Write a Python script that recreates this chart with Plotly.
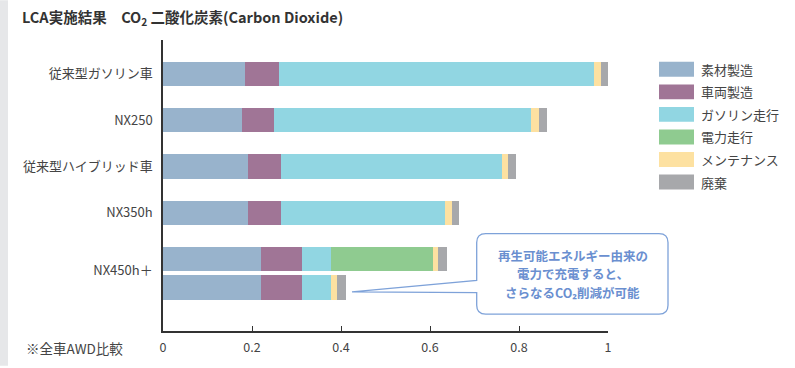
import plotly.graph_objects as go

# ---------------- data ----------------
categories = ["従来型ガソリン車", "NX250", "従来型ハイブリッド車", "NX350h", "NX450h＋"]
# bar rows (NX450h+ has two bars: upper = with grid power, lower = renewable charging)
row_pos = [0, 1, 2, 3, 3.99, 4.61]
label_pos = [0, 1, 2, 3, 4.25]

series_names = ["素材製造", "車両製造", "ガソリン走行", "電力走行", "メンテナンス", "廃棄"]
series_colors = ["#98b3cc", "#a07596", "#91d6e2", "#8fcb90", "#fde1a1", "#a7a8ab"]

material = [0.184, 0.177, 0.191, 0.191, 0.220, 0.220]
vehicle = [0.076, 0.073, 0.074, 0.074, 0.092, 0.092]
gasoline = [0.708, 0.578, 0.496, 0.369, 0.065, 0.065]
electric = [0.000, 0.000, 0.000, 0.000, 0.229, 0.000]
maintenance = [0.016, 0.018, 0.0135, 0.015, 0.012, 0.0135]
disposal = [0.016, 0.016, 0.0187, 0.0165, 0.020, 0.020]
series_values = [material, vehicle, gasoline, electric, maintenance, disposal]

x_ticks = [0, 0.2, 0.4, 0.6, 0.8, 1]
x_ticktext = ["0", "0.2", "0.4", "0.6", "0.8", "1"]

title_text = "LCA実施結果　CO<sub>2</sub> 二酸化炭素(Carbon Dioxide)"
note_text = "※全車AWD比較"
callout_lines = ["再生可能エネルギー由来の", "電力で充電すると、", "さらなるCO₂削減が可能"]

# ---------------- layout geometry (pixels) ----------------
W, H = 795, 368
L, R, T, B = 163, 608, 40, 333
PW, PH = R - L, B - T


def px(x):
    return (x - L) / PW


def py(y):
    return (B - y) / PH


FONT = "Noto Sans CJK JP, Noto Sans, sans-serif"

fig = go.Figure()
for name, color, vals in zip(series_names, series_colors, series_values):
    fig.add_trace(go.Bar(
        y=row_pos, x=vals, orientation="h", name=name,
        marker=dict(color=color, line=dict(width=0)),
        width=0.525, showlegend=False, hoverinfo="skip",
    ))

shapes = []
annotations = []

# left grey stripe
shapes.append(dict(type="rect", xref="paper", yref="paper",
                   x0=px(0), x1=px(8), y0=py(H), y1=py(0),
                   fillcolor="#e6e7e9", line=dict(width=0), layer="below"))

# manual legend
for i, (name, color) in enumerate(zip(series_names, series_colors)):
    cy = 69.5 + i * 22.7
    shapes.append(dict(type="rect", xref="paper", yref="paper",
                       x0=px(659), x1=px(694), y0=py(cy + 7.5), y1=py(cy - 7.5),
                       fillcolor=color, line=dict(width=0)))
    annotations.append(dict(xref="paper", yref="paper", x=px(699), y=py(cy),
                            text=name, showarrow=False, xanchor="left", yanchor="middle",
                            font=dict(family=FONT, size=13, color="#444444")))

# callout box with pointer
bl, br, bt, bb, r = 476.7, 668, 235, 316, 9
tipx, tipy = 352, 293.7


def P(x, y):
    return f"{px(x):.5f},{py(y):.5f}"


path = (f"M{P(bl + r, bt)} L{P(br - r, bt)} Q{P(br, bt)} {P(br, bt + r)} "
        f"L{P(br, bb - r)} Q{P(br, bb)} {P(br - r, bb)} "
        f"L{P(bl + r, bb)} Q{P(bl, bb)} {P(bl, bb - r)} "
        f"L{P(bl, 294.3)} L{P(tipx, tipy)} L{P(bl, 282)} "
        f"L{P(bl, bt + r)} Q{P(bl, bt)} {P(bl + r, bt)} Z")
shapes.append(dict(type="path", xref="paper", yref="paper", path=path,
                   fillcolor="white", line=dict(color="#7ea2d9", width=1.3)))

for i, line in enumerate(callout_lines):
    annotations.append(dict(xref="paper", yref="paper", x=px(572.5), y=py(257.3 + i * 18.3),
                            text=line, showarrow=False, xanchor="center", yanchor="middle",
                            font=dict(family=FONT, size=12.5, color="#6a8fd0", weight="bold")))

# title and note
annotations.append(dict(xref="paper", yref="paper", x=px(20), y=py(17),
                        text=title_text, showarrow=False, xanchor="left", yanchor="middle",
                        font=dict(family=FONT, size=14.5, color="#333333", weight="bold")))
annotations.append(dict(xref="paper", yref="paper", x=px(24), y=py(350),
                        text=note_text, showarrow=False, xanchor="left", yanchor="middle",
                        font=dict(family=FONT, size=13.5, color="#444444")))

fig.update_layout(
    width=W, height=H,
    margin=dict(l=L, r=W - R, t=T, b=H - B, pad=0),
    paper_bgcolor="white", plot_bgcolor="white",
    barmode="stack", bargap=0,
    showlegend=False,
    shapes=shapes, annotations=annotations,
    font=dict(family=FONT, size=13, color="#444444"),
    xaxis=dict(range=[0, 1], tickvals=x_ticks, ticktext=x_ticktext,
               showgrid=False, zeroline=False, showline=True, linecolor="#333333",
               linewidth=1.5, ticks="inside", ticklen=5, tickcolor="#333333",
               tickwidth=1, tickfont=dict(size=12.5, color="#444444"), ticklabelstandoff=4),
    yaxis=dict(range=[5.55, -0.73], tickvals=label_pos, ticktext=categories,
               showgrid=False, zeroline=False, showline=True, linecolor="#333333",
               linewidth=1.5, ticks="", tickfont=dict(size=13, color="#444444"),
               ticklabelstandoff=6),
)

fig.write_html("out.html")
